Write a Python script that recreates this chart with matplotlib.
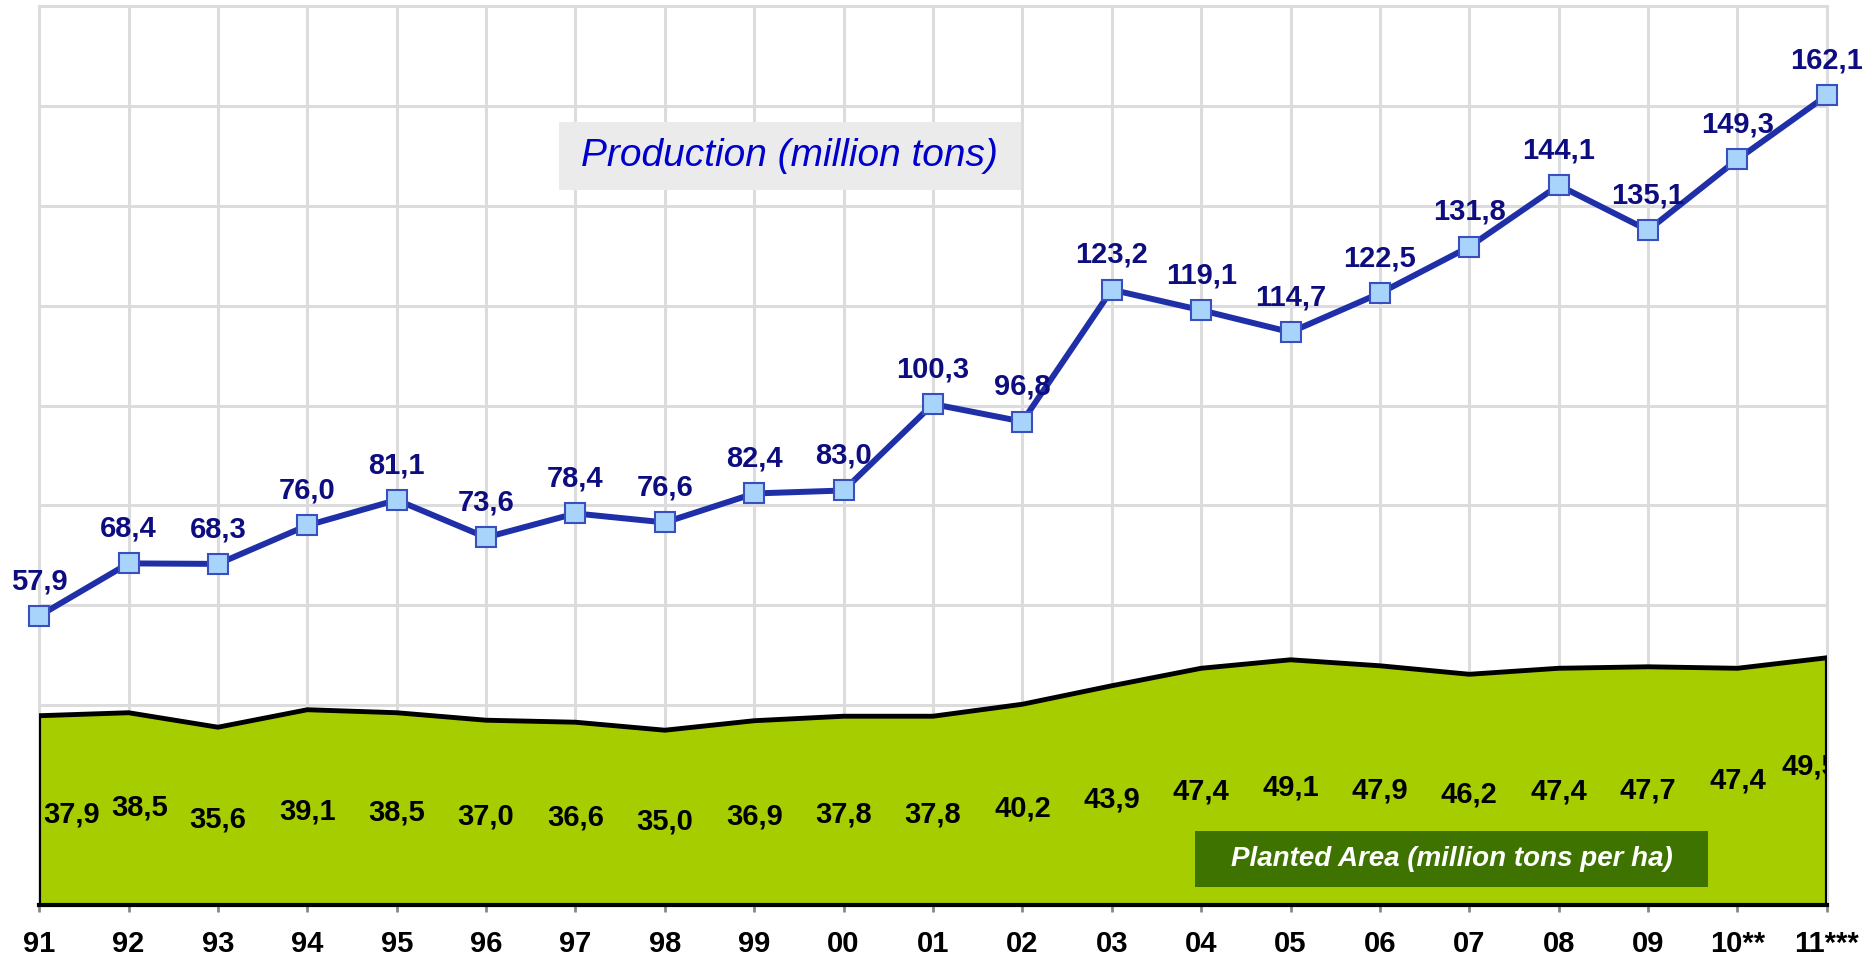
import numpy as np
import matplotlib.pyplot as plt
from matplotlib.patches import Rectangle

years = ['91', '92', '93', '94', '95', '96', '97', '98', '99', '00', '01',
         '02', '03', '04', '05', '06', '07', '08', '09', '10**', '11***']
production = [57.9, 68.4, 68.3, 76.0, 81.1, 73.6, 78.4, 76.6, 82.4, 83.0, 100.3,
              96.8, 123.2, 119.1, 114.7, 122.5, 131.8, 144.1, 135.1, 149.3, 162.1]
area = [37.9, 38.5, 35.6, 39.1, 38.5, 37.0, 36.6, 35.0, 36.9, 37.8, 37.8,
        40.2, 43.9, 47.4, 49.1, 47.9, 46.2, 47.4, 47.7, 47.4, 49.5]

font = 'Liberation Sans'
fmt = lambda v: f'{v:.1f}'.replace('.', ',')

fig = plt.figure(figsize=(18.66, 9.59), dpi=100)
ax = fig.add_axes([0.021, 0.0563, 0.958, 0.9374])
x = np.arange(len(years))

# grid
ax.set_xlim(0, len(years) - 1)
ax.set_ylim(0, 180)
ax.set_yticks(np.arange(0, 181, 20))
ax.set_xticks(x)
ax.grid(True, color='#dcdcdc', lw=2.2, zorder=0)
ax.tick_params(axis='y', length=0, labelleft=False)
ax.tick_params(axis='x', length=5, width=2, color='#888888', pad=13)
ax.set_xticklabels(years, fontsize=21, fontweight='bold', family=font)
for s in ['top', 'left', 'right']:
    ax.spines[s].set_color('#dcdcdc')
    ax.spines[s].set_linewidth(2.2)
ax.spines['bottom'].set_color('black')
ax.spines['bottom'].set_linewidth(3)

# planted area
ax.fill_between(x, 0, area, color='#a6cd00', zorder=2)
ax.plot(x, area, color='black', lw=3.5, zorder=3)
ax.plot([0, 0], [0, area[0]], color='black', lw=3, zorder=3)
ax.plot([x[-1], x[-1]], [0, area[-1]], color='black', lw=3, zorder=3)
for i, v in zip(x, area):
    ha, dx, dy = 'center', 0, 0
    if i == 0:
        ha, dx = 'left', 3
    elif i == 1:
        dx, dy = 8, 4
    elif i == x[-2]:
        dy = 8
    elif i == x[-1]:
        dx, dy = -12, 14
    ax.annotate(fmt(v), (i, v * 0.48), xytext=(dx, dy), textcoords='offset points',
                ha=ha, va='center', fontsize=21, fontweight='bold', family=font,
                color='black', zorder=4, annotation_clip=False, clip_on=True)

# production
ax.plot(x, production, color='#1f2fa8', lw=4.3, marker='s', markersize=14,
        markerfacecolor='#a8d4fb', markeredgecolor='#3a4fbf', markeredgewidth=1.5,
        zorder=5, clip_on=False)
for i, v in zip(x, production):
    ax.annotate(fmt(v), (i, v), xytext=(0, 15), textcoords='offset points',
                ha='center', va='bottom', fontsize=21, fontweight='bold',
                family=font, color='#0d0d80', zorder=6,
                annotation_clip=False)

# label boxes
ax.add_patch(Rectangle((0.291, 0.795), 0.258, 0.0765, transform=ax.transAxes,
                       fc='#ebebeb', ec='none', zorder=6))
ax.text(0.42, 0.833, 'Production (million tons)', transform=ax.transAxes,
        ha='center', va='center', fontsize=28, style='italic', color='#0000cc',
        family=font, zorder=7)
ax.add_patch(Rectangle((0.6465, 0.0199), 0.2869, 0.0622, transform=ax.transAxes,
                       fc='#3f7300', ec='none', zorder=6))
ax.text(0.79, 0.051, 'Planted Area (million tons per ha)', transform=ax.transAxes,
        ha='center', va='center', fontsize=20, style='italic', fontweight='bold',
        color='white', family=font, zorder=7)

fig.savefig('out.png', dpi=100)
